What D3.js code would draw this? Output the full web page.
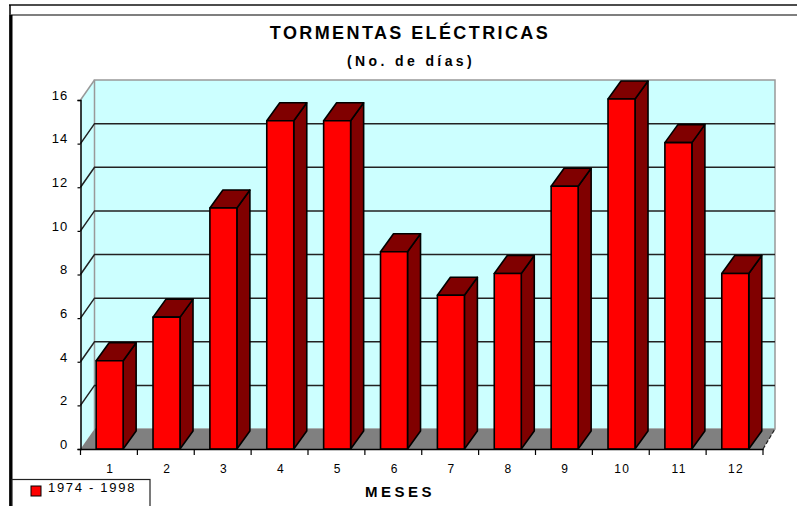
<!DOCTYPE html>
<html>
<head>
<meta charset="utf-8">
<script src="https://cdn.jsdelivr.net/npm/d3@7"></script>
<style>
  body { margin: 0; background: #fff; }
  text { font-family: "Liberation Sans", Arial, sans-serif; fill: #000; }
</style>
</head>
<body>
<script>
const width = 797
const height = 506

const months = ['1', '2', '3', '4', '5', '6', '7', '8', '9', '10', '11', '12']
const days = [4, 6, 11, 15, 15, 9, 7, 8, 12, 16, 14, 8]
const yTicks = [0, 2, 4, 6, 8, 10, 12, 14, 16]
const seriesName = '1974 - 1998'

// depth of the fake 3d box
const wallDx = 14
const wallDy = -20
const barDx = 13
const barDy = -18
const wallRight = 775

const x = d3.scaleBand().domain(months).range([80.5, 763])
const y = d3.scaleLinear().domain([0, 16]).range([449, 100])

const svg = d3.select('body').append('svg')
  .attr('width', width).attr('height', height)
  .style('display', 'block')

// page frame
svg.append('line').attr('x1', 9).attr('x2', 797).attr('y1', 5).attr('y2', 5)
  .attr('stroke', '#111').attr('stroke-width', 1.5)
svg.append('line').attr('x1', 11).attr('x2', 797).attr('y1', 15).attr('y2', 15)
  .attr('stroke', '#555').attr('stroke-width', 1.5)
svg.append('line').attr('x1', 10).attr('x2', 10).attr('y1', 5).attr('y2', 506)
  .attr('stroke', '#000').attr('stroke-width', 1.5)
svg.append('line').attr('x1', 11).attr('x2', 11).attr('y1', 15).attr('y2', 506)
  .attr('stroke', '#000').attr('stroke-width', 3)

// walls
const x0 = x.range()[0]
const x1 = x.range()[1]
const y0 = y(0)
const yTop = y(16)

svg.append('path')
  .attr('d', `M${x0},${y0}L${x0 + wallDx},${y0 + wallDy}L${x0 + wallDx},${yTop + wallDy}L${x0},${yTop}Z`)
  .attr('fill', '#ccffff')
svg.append('rect')
  .attr('x', x0 + wallDx).attr('y', yTop + wallDy)
  .attr('width', wallRight - x0 - wallDx).attr('height', y0 - yTop)
  .attr('fill', '#ccffff')
  .attr('stroke', '#999').attr('stroke-width', 1.5)
svg.append('line')
  .attr('x1', x0).attr('y1', yTop)
  .attr('x2', x0 + wallDx).attr('y2', yTop + wallDy)
  .attr('stroke', '#999').attr('stroke-width', 1.5)

// floor
svg.append('path')
  .attr('d', `M${x0},${y0}L${x0 + wallDx},${y0 + wallDy}L${wallRight},${y0 + wallDy}L${x1},${y0}Z`)
  .attr('fill', '#808080')

// gridlines on back and side wall
const grid = svg.append('g').attr('stroke', '#222').attr('stroke-width', 1.5).attr('fill', 'none')
grid.selectAll('path')
  .data(yTicks.filter(d => d > 0 && d < 16))
  .join('path')
  .attr('d', d => `M${x0},${y(d)}L${x0 + wallDx},${y(d) + wallDy}L${wallRight},${y(d) + wallDy}`)

// bars
const bars = svg.append('g').selectAll('g')
  .data(days)
  .join('g')
  .attr('transform', (d, i) => `translate(${x(months[i]) + x.bandwidth() / 2 + 0.7},0)`)
  .attr('stroke', '#000')
  .attr('stroke-width', 1.6)
  .attr('stroke-linejoin', 'round')

const barW = 27
const barTop = d => y(d) - 1

bars.append('path')
  .attr('fill', '#800000')
  .attr('d', d => `M${barW / 2},${y0}L${barW / 2 + barDx},${y0 + barDy}L${barW / 2 + barDx},${barTop(d) + barDy}L${barW / 2},${barTop(d)}Z`)
bars.append('path')
  .attr('fill', '#800000')
  .attr('d', d => `M${-barW / 2},${barTop(d)}L${-barW / 2 + barDx},${barTop(d) + barDy}L${barW / 2 + barDx},${barTop(d) + barDy}L${barW / 2},${barTop(d)}Z`)
bars.append('rect')
  .attr('fill', '#ff0000')
  .attr('x', -barW / 2)
  .attr('width', barW)
  .attr('y', d => barTop(d))
  .attr('height', d => y0 - barTop(d))

// axes
const axisX = svg.append('g')
  .attr('transform', `translate(0,${y0})`)
  .call(d3.axisBottom(x).tickSize(0).tickPadding(15))
axisX.select('.domain').attr('stroke', '#000').attr('stroke-width', 1.5)
axisX.selectAll('text')
  .attr('dx', '1.5')
  .style('font-size', '12px').style('letter-spacing', '1.5px').attr('fill', '#000')
axisX.append('g').selectAll('line')
  .data(d3.range(13))
  .join('line')
  .attr('x1', i => x0 + i * x.step())
  .attr('x2', i => x0 + i * x.step())
  .attr('y1', 0).attr('y2', 6)
  .attr('stroke', '#000').attr('stroke-width', 1.2)

const axisY = svg.append('g')
  .attr('transform', `translate(${x0},0)`)
  .call(d3.axisLeft(y).tickValues(yTicks).tickSize(3).tickPadding(9))
axisY.select('.domain').attr('stroke', '#000').attr('stroke-width', 1.5)
axisY.selectAll('.tick line').attr('stroke', '#000').attr('stroke-width', 1.2)
axisY.selectAll('text')
  .attr('dy', '-0.05em')
  .style('font-size', '13px').style('letter-spacing', '1.2px').attr('fill', '#000')

// right end of floor
svg.append('line')
  .attr('x1', x1).attr('y1', y0)
  .attr('x2', wallRight).attr('y2', y0 + wallDy)
  .attr('stroke', '#222').attr('stroke-width', 1.2).attr('stroke-dasharray', '4 2')

// titles
svg.append('text').attr('x', 410).attr('y', 39).attr('text-anchor', 'middle')
  .style('font-size', '18px').style('font-weight', 'bold').style('letter-spacing', '2.4px')
  .text('TORMENTAS ELÉCTRICAS')
svg.append('text').attr('x', 411).attr('y', 66).attr('text-anchor', 'middle')
  .style('font-size', '14px').style('font-weight', 'bold').style('letter-spacing', '3.4px')
  .text('(No. de días)')
svg.append('text').attr('x', 400).attr('y', 497).attr('text-anchor', 'middle')
  .style('font-size', '15px').style('font-weight', 'bold').style('letter-spacing', '3.5px')
  .text('MESES')

// legend
svg.append('rect').attr('x', 12).attr('y', 479.5).attr('width', 138).attr('height', 40)
  .attr('fill', '#fff').attr('stroke', '#222').attr('stroke-width', 1.2)
svg.append('rect').attr('x', 31).attr('y', 486).attr('width', 10).attr('height', 10)
  .attr('fill', '#ff0000').attr('stroke', '#000')
svg.append('text').attr('x', 48).attr('y', 492)
  .style('font-size', '13px').style('letter-spacing', '1.7px')
  .text(seriesName)
</script>
</body>
</html>
